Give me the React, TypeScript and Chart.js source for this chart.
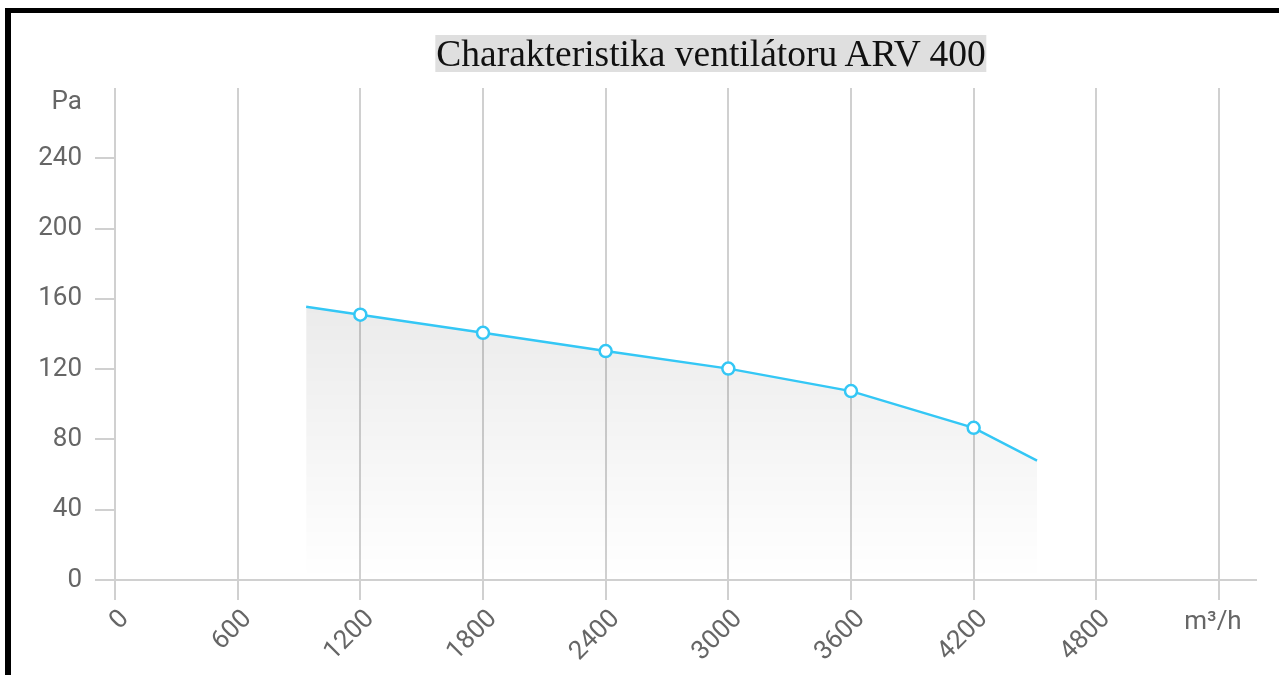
import React, { useEffect, useRef } from 'react';
import { Chart, registerables } from 'chart.js';

Chart.register(...registerables);

const titleText = 'Charakteristika ventilátoru ARV 400';
const flowValues = [935, 1200, 1800, 2400, 3000, 3600, 4200, 4510];
const pressureValues = [155.5, 151, 140.7, 130.3, 120.3, 107.5, 86.6, 67.9];
const markerRadii = [0, 6, 6, 6, 6, 6, 6, 0];
const xTickValues = [0, 600, 1200, 1800, 2400, 3000, 3600, 4200, 4800, 5400];
const xTickLast = 5400;
const xAxisMax = 5581;
const yTickValues = [0, 40, 80, 120, 160, 200, 240, 280];
const yAxisMax = 280;
const xUnitLabel = 'm³/h';
const yUnitLabel = 'Pa';

const GRID = '#d0d0d0';
const TICK_TEXT = '#666666';
const LINE = 'rgb(52,199,245)';

export default function App() {
  const canvasRef = useRef<HTMLCanvasElement | null>(null);

  useEffect(() => {
    const canvas = canvasRef.current;
    if (!canvas) return;

    const unitLabels = {
      id: 'unitLabels',
      afterDraw(chart: any) {
        const ctx = chart.ctx;
        const xs = chart.scales.x;
        const ys = chart.scales.y;
        ctx.save();
        ctx.fillStyle = TICK_TEXT;
        ctx.font = '26px Roboto';
        ctx.textBaseline = 'middle';
        ctx.textAlign = 'right';
        ctx.fillText(yUnitLabel, ys.right - 33, ys.getPixelForValue(yAxisMax) + 14);
        ctx.textAlign = 'center';
        ctx.fillText(xUnitLabel, xs.getPixelForValue(xTickLast) - 6, xs.top + 42);
        ctx.restore();
      },
    };

    const chart = new Chart(canvas, {
      type: 'line',
      data: {
        datasets: [
          {
            data: flowValues.map((x, i) => ({ x, y: pressureValues[i] })),
            borderColor: LINE,
            borderWidth: 2.5,
            pointRadius: markerRadii,
            pointHoverRadius: markerRadii,
            pointBackgroundColor: '#ffffff',
            pointBorderColor: LINE,
            pointBorderWidth: 2.5,
            tension: 0,
            fill: 'origin',
            backgroundColor: (c: any) => {
              const ch = c.chart;
              const area = ch.chartArea;
              if (!area) return 'rgba(0,0,0,0.05)';
              const top = ch.scales.y.getPixelForValue(156);
              const g = ch.ctx.createLinearGradient(0, top, 0, area.bottom);
              g.addColorStop(0, 'rgba(0,0,0,0.08)');
              g.addColorStop(1, 'rgba(0,0,0,0)');
              return g;
            },
          },
        ],
      },
      options: {
        animation: false,
        responsive: false,
        devicePixelRatio: 1,
        layout: { padding: { top: 88, right: 23, left: 0, bottom: 0 } },
        plugins: { legend: { display: false }, title: { display: false }, tooltip: { enabled: false } },
        scales: {
          x: {
            type: 'linear',
            min: 0,
            max: xAxisMax,
            afterBuildTicks: (s: any) => {
              s.ticks = xTickValues.map((v) => ({ value: v }));
            },
            afterFit: (s: any) => {
              s.height = 95;
            },
            ticks: {
              autoSkip: false,
              minRotation: 45,
              maxRotation: 45,
              padding: 4,
              labelOffset: 10,
              color: TICK_TEXT,
              font: { family: 'Roboto', size: 26 },
              callback: (v: any) => (v === xTickLast ? '' : String(v)),
            },
            grid: {
              color: GRID,
              lineWidth: 2,
              tickLength: 20,
              drawOnChartArea: true,
              drawTicks: true,
            },
            border: { display: true, color: GRID, width: 2 },
          },
          y: {
            type: 'linear',
            min: 0,
            max: yAxisMax,
            afterBuildTicks: (s: any) => {
              s.ticks = yTickValues.map((v) => ({ value: v }));
            },
            afterFit: (s: any) => {
              s.width = 115;
            },
            ticks: {
              padding: 13,
              color: TICK_TEXT,
              font: { family: 'Roboto', size: 26 },
              callback: (v: any) => (v === yAxisMax ? '' : String(v)),
            },
            grid: {
              drawOnChartArea: false,
              drawTicks: true,
              tickLength: 20,
              lineWidth: 2,
              color: GRID,
              tickColor: (c: any) => (c.tick && c.tick.value === yAxisMax ? 'rgba(0,0,0,0)' : GRID),
            },
            border: { display: false },
          },
        },
      },
      plugins: [unitLabels],
    });

    return () => chart.destroy();
  }, []);

  return (
    <div>
      <canvas
        ref={canvasRef}
        width={1279}
        height={675}
        style={{ position: 'absolute', left: 0, top: 0, width: 1279, height: 675 }}
      />
      <div
        style={{
          position: 'absolute',
          left: 5,
          top: 8,
          width: 1274,
          height: 667,
          boxSizing: 'border-box',
          borderLeft: '6px solid #000',
          borderTop: '5px solid #000',
          pointerEvents: 'none',
        }}
      />
      <div
        style={{
          position: 'absolute',
          left: 711,
          top: 35,
          transform: 'translateX(-50%)',
          whiteSpace: 'nowrap',
        }}
      >
        <span
          style={{
            display: 'inline-block',
            background: 'rgb(223,223,223)',
            fontFamily: '"Liberation Serif", "Times New Roman", serif',
            fontSize: 37.5,
            lineHeight: '37px',
            color: '#111',
            padding: '0 1px',
          }}
        >
          {titleText}
        </span>
      </div>
    </div>
  );
}
